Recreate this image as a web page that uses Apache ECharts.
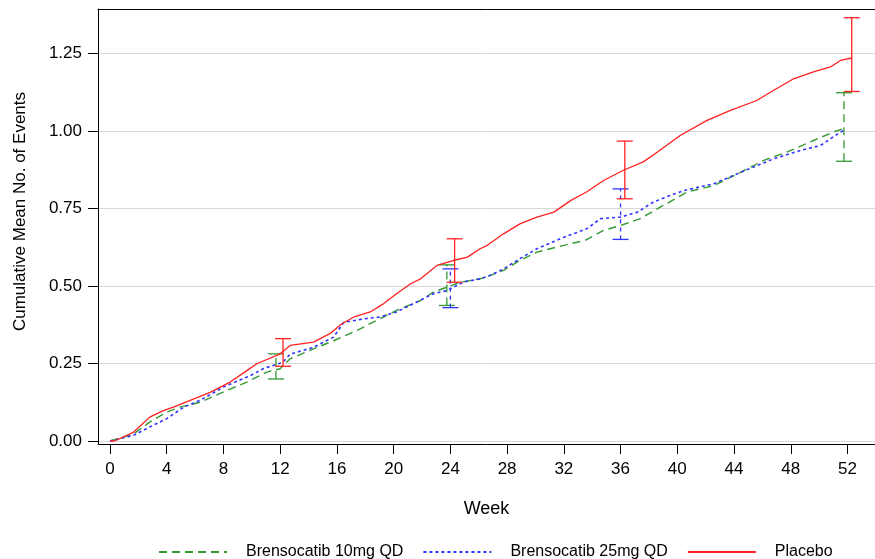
<!DOCTYPE html>
<html>
<head>
<meta charset="utf-8">
<script src="https://cdn.jsdelivr.net/npm/echarts@6/dist/echarts.min.js"></script>
<style>
  html, body { margin: 0; padding: 0; background: #fff; }
  #main { width: 875px; height: 559px; }
</style>
</head>
<body>
<div id="main"></div>
<script>
// tick labels
var weekTicks = [0, 4, 8, 12, 16, 20, 24, 28, 32, 36, 40, 44, 48, 52];
var meanTicks = [0, 0.25, 0.5, 0.75, 1.0, 1.25];

// Brensocatib 10mg QD
var w10 = [0, 1.65, 2.8, 4.0, 4.94, 6.35, 8.23, 9.65, 11.06, 12, 12.7, 14.35, 15.8, 17.4, 18.8, 20.2, 21.9, 22.8, 23.76, 24.7, 26.1, 26.8, 27.75, 28.9, 30.1, 32, 33.5, 34.8, 36, 37.4, 38.8, 40.7, 42.6, 44.5, 46.1, 47.75, 49.6, 51, 51.75];
var v10 = [0, 0.022, 0.061, 0.093, 0.109, 0.125, 0.163, 0.19, 0.222, 0.233, 0.265, 0.297, 0.324, 0.356, 0.389, 0.421, 0.453, 0.48, 0.496, 0.512, 0.523, 0.534, 0.55, 0.582, 0.609, 0.631, 0.647, 0.679, 0.695, 0.717, 0.754, 0.803, 0.824, 0.867, 0.905, 0.932, 0.969, 0.996, 1.008];

// Brensocatib 25mg QD
var w25 = [0, 1.65, 2.8, 4.0, 5.2, 6.35, 8.0, 9.9, 10.8, 12.2, 12.7, 14.35, 15.76, 16.5, 17.9, 19.05, 20.2, 21.4, 22.8, 23.76, 24.9, 26.1, 26.8, 27.75, 28.9, 30.1, 32, 33.6, 34.6, 36, 37.2, 38.3, 39.5, 40.5, 42.6, 44.5, 46.8, 48.7, 50.1, 51.5, 51.9];
var v25 = [0, 0.018, 0.045, 0.072, 0.109, 0.131, 0.174, 0.211, 0.233, 0.254, 0.28, 0.302, 0.335, 0.383, 0.394, 0.4, 0.416, 0.443, 0.475, 0.485, 0.512, 0.523, 0.534, 0.555, 0.588, 0.62, 0.657, 0.684, 0.717, 0.722, 0.738, 0.77, 0.792, 0.808, 0.83, 0.867, 0.91, 0.937, 0.953, 0.996, 1.004];

// Placebo
var wPbo = [0, 0.3, 1.65, 2.8, 3.76, 4.47, 5.65, 7.06, 8.47, 9.65, 10.35, 12, 12.7, 14.35, 15.5, 16.35, 17.2, 18.35, 19.3, 20.2, 21.2, 21.9, 23.05, 24.2, 25.2, 26.1, 26.6, 27.75, 28.9, 30.1, 31.3, 32.5, 33.6, 34.8, 36.2, 37.6, 38.6, 40.2, 42.1, 43.75, 45.6, 46.8, 48.2, 49.6, 50.8, 51.5, 52.3];
var vPbo = [0, 0, 0.028, 0.077, 0.098, 0.109, 0.131, 0.157, 0.19, 0.227, 0.249, 0.281, 0.308, 0.319, 0.346, 0.378, 0.4, 0.416, 0.443, 0.475, 0.507, 0.523, 0.566, 0.582, 0.593, 0.62, 0.631, 0.668, 0.7, 0.722, 0.738, 0.776, 0.803, 0.84, 0.873, 0.9, 0.932, 0.985, 1.034, 1.066, 1.098, 1.131, 1.168, 1.19, 1.206, 1.227, 1.235];

// error bars: week, lower, upper
var err10Week = [11.7, 23.75, 51.75];
var err10Low = [0.20, 0.437, 0.902];
var err10High = [0.281, 0.568, 1.123];
var err25Week = [24.0, 36.0];
var err25Low = [0.43, 0.65];
var err25High = [0.555, 0.813];
var errPboWeek = [12.2, 24.3, 36.3, 52.3];
var errPboLow = [0.241, 0.512, 0.781, 1.127];
var errPboHigh = [0.330, 0.652, 0.967, 1.365];

var names = ['Brensocatib 10mg QD', 'Brensocatib 25mg QD', 'Placebo'];
var colors = ['#339933', '#3333ff', '#ff2020'];

function pairs(xs, ys) {
    return xs.map(function (x, i) { return [x, ys[i]]; });
}
function triples(xs, lo, hi) {
    return xs.map(function (x, i) { return [x, lo[i], hi[i]]; });
}

function errBar(dash) {
    return function (params, api) {
        var x = api.value(0);
        var lo = api.coord([x, api.value(1)]);
        var hi = api.coord([x, api.value(2)]);
        var c = api.visual('color');
        var w = 8;
        return {
            type: 'group',
            children: [
                {type: 'line', shape: {x1: lo[0], y1: lo[1], x2: hi[0], y2: hi[1]},
                    style: {stroke: c, lineWidth: 1.3, lineDash: dash}},
                {type: 'line', shape: {x1: hi[0] - w, y1: hi[1], x2: hi[0] + w, y2: hi[1]},
                    style: {stroke: c, lineWidth: 1.3}},
                {type: 'line', shape: {x1: lo[0] - w, y1: lo[1], x2: lo[0] + w, y2: lo[1]},
                    style: {stroke: c, lineWidth: 1.3}}
            ]
        };
    };
}

var font = "'Liberation Sans', Arial, sans-serif";

var myChart = echarts.init(document.getElementById('main'));
var option = {
    animation: false,
    color: colors,
    textStyle: {fontFamily: font, color: '#000'},
    grid: {left: 98, top: 9, right: 0, bottom: 115},
    legend: {
        data: names,
        left: 153, top: 539,
        itemWidth: 68, itemHeight: 10, itemGap: 19,
        itemStyle: {color: 'rgba(0,0,0,0)', borderWidth: 0},
        textStyle: {fontSize: 16, color: '#000', fontFamily: font, padding: [0, 0, 0, 14]}
    },
    xAxis: [{
        type: 'value',
        min: -0.846, max: 53.94,
        name: 'Week', nameLocation: 'middle', nameGap: 56,
        nameTextStyle: {fontSize: 18, color: '#000'},
        axisLine: {show: true, onZero: false, lineStyle: {color: '#000'}},
        axisTick: {show: true, length: 10, customValues: weekTicks, lineStyle: {color: '#000'}},
        axisLabel: {customValues: weekTicks, fontSize: 17, color: '#000', margin: 17},
        splitLine: {show: false}
    }, {
        // top frame line only
        type: 'value', position: 'top',
        min: -0.846, max: 53.94,
        axisLine: {show: true, onZero: false, lineStyle: {color: '#000'}},
        axisTick: {show: false},
        axisLabel: {show: false},
        splitLine: {show: false}
    }],
    yAxis: {
        type: 'value',
        min: -0.0097, max: 1.393,
        name: 'Cumulative Mean No. of Events', nameLocation: 'middle', nameGap: 69,
        nameTextStyle: {fontSize: 17, color: '#000', padding: [0, 0, 0, 30]},
        axisLine: {show: true, onZero: false, lineStyle: {color: '#000'}},
        axisTick: {show: true, length: 10, customValues: meanTicks, lineStyle: {color: '#000'}},
        axisLabel: {
            customValues: meanTicks, fontSize: 17, color: '#000', margin: 16,
            formatter: function (v) { return v.toFixed(2); }
        },
        splitLine: {show: true, lineStyle: {color: '#d8d8d8', width: 1}}
    },
    series: [
        {
            name: names[0], type: 'line', data: pairs(w10, v10),
            symbol: 'none', z: 3,
            lineStyle: {color: colors[0], width: 1.4, type: [8, 5]}
        },
        {
            name: names[1], type: 'line', data: pairs(w25, v25),
            symbol: 'none', z: 4,
            lineStyle: {color: colors[1], width: 1.6, type: [3, 3]}
        },
        {
            name: names[2], type: 'line', data: pairs(wPbo, vPbo),
            symbol: 'none', z: 5,
            lineStyle: {color: colors[2], width: 1.3, type: 'solid'}
        },
        {
            name: names[0], type: 'custom', renderItem: errBar([8, 5]),
            data: triples(err10Week, err10Low, err10High),
            encode: {x: 0, y: [1, 2]}, z: 3
        },
        {
            name: names[1], type: 'custom', renderItem: errBar([4, 4]),
            data: triples(err25Week, err25Low, err25High),
            encode: {x: 0, y: [1, 2]}, z: 4
        },
        {
            name: names[2], type: 'custom', renderItem: errBar(null),
            data: triples(errPboWeek, errPboLow, errPboHigh),
            encode: {x: 0, y: [1, 2]}, z: 5
        }
    ]
};
myChart.setOption(option);
window.addEventListener('resize', function () {
    myChart.resize();
});
</script>
</body>
</html>
